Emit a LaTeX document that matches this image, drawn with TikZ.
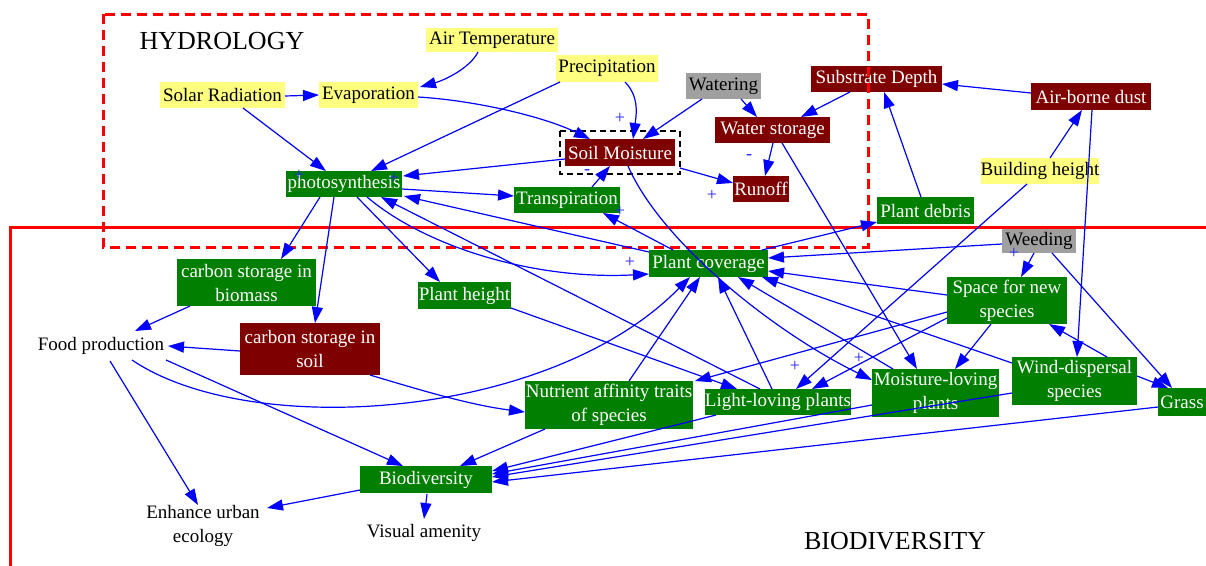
\documentclass[tikz,border=0pt]{standalone}
\usepackage{fontspec}
\setmainfont{Liberation Serif}
\usetikzlibrary{arrows.meta,calc}
\definecolor{yel}{HTML}{FFFF80}
\definecolor{grn}{HTML}{007F00}
\definecolor{drk}{HTML}{7F0000}
\definecolor{gry}{HTML}{A0A0A0}
\definecolor{eblue}{HTML}{0000FF}
\definecolor{sblue}{HTML}{2222FF}
\newcommand\nodefont{\fontsize{19}{24}\selectfont}
\newcommand\grpfont{\fontsize{26}{30}\selectfont}
\newcommand\signfont{\fontsize{18}{18}\selectfont}
\tikzset{
 edge/.style={draw=eblue, line width=1.2pt, -{Triangle[length=16pt,width=11pt]}},
 base/.style={inner sep=0pt, font=\nodefont, align=center},
 ynode/.style={base, fill=yel, text=black},
 gnode/.style={base, fill=grn, text=white},
 rnode/.style={base, fill=drk, text=white},
 grnode/.style={base, fill=gry, text=black},
 plain/.style={base, text=black},
 sign/.style={text=sblue, font=\signfont, inner sep=0pt},
 grplabel/.style={font=\grpfont, text=black, inner sep=0pt},
}
\begin{document}
\begin{tikzpicture}[x=1pt,y=-1pt]
\useasboundingbox (0,0) rectangle (1206,565);
\fill[white] (0,0) rectangle (1206,565);

% nodes
\node[ynode, minimum width=132pt, minimum height=24pt] (airtemp) at (492,40) {Air Temperature};
\node[ynode, minimum width=125pt, minimum height=26pt] (solar) at (222.5,95) {Solar Radiation};
\node[ynode, minimum width=99pt, minimum height=26pt] (evap) at (368.5,95) {Evaporation};
\node[ynode, minimum width=102pt, minimum height=27pt] (precip) at (607,68.5) {Precipitation};
\node[ynode, minimum width=116pt, minimum height=26pt] (building) at (1040,171) {Building height};
\node[grnode, minimum width=75pt, minimum height=26pt] (watering) at (723.5,86) {Watering};
\node[grnode, minimum width=74pt, minimum height=25pt] (weeding) at (1039,240.5) {Weeding};
\node[rnode, minimum width=131pt, minimum height=26pt] (substrate) at (876.5,79) {Substrate Depth};
\node[rnode, minimum width=120pt, minimum height=27pt] (dust) at (1091,96.5) {Air-borne dust};
\node[rnode, minimum width=115pt, minimum height=26pt] (waterstor) at (772.5,130) {Water storage};
\node[rnode, minimum width=110pt, minimum height=27pt] (soilm) at (620,152.5) {Soil Moisture};
\node[rnode, minimum width=56pt, minimum height=26pt] (runoff) at (761,189) {Runoff};
\node[rnode, minimum width=140pt, minimum height=52pt] (csoil) at (310,349) {carbon storage in\\soil};
\node[gnode, minimum width=116pt, minimum height=26pt] (photo) at (344,184) {photosynthesis};
\node[gnode, minimum width=106pt, minimum height=26pt] (transp) at (567,200) {Transpiration};
\node[gnode, minimum width=97pt, minimum height=27pt] (debris) at (925.5,210.5) {Plant debris};
\node[gnode, minimum width=139pt, minimum height=47pt] (cbio) at (246.5,282.5) {carbon storage in\\biomass};
\node[gnode, minimum width=93pt, minimum height=27pt] (pheight) at (464.5,295.5) {Plant height};
\node[gnode, minimum width=119pt, minimum height=27pt] (pcov) at (708.5,263.5) {Plant coverage};
\node[gnode, minimum width=120pt, minimum height=47pt] (space) at (1007,300.5) {Space for new\\species};
\node[gnode, minimum width=168pt, minimum height=48pt] (nutrient) at (609,405) {Nutrient affinity traits\\of species};
\node[gnode, minimum width=146pt, minimum height=26pt] (light) at (778,402) {Light-loving plants};
\node[gnode, minimum width=127pt, minimum height=48pt] (moist) at (935.5,393) {Moisture-loving\\plants};
\node[gnode, minimum width=125pt, minimum height=48pt] (wind) at (1074.5,381) {Wind-dispersal\\species};
\node[gnode, minimum width=48pt, minimum height=28pt] (grass) at (1182,402) {Grass};
\node[gnode, minimum width=132pt, minimum height=27pt] (biodiv) at (426,479.5) {Biodiversity};
\node[plain] (food) at (101,346) {Food production};
\node[plain] (enhance) at (203,526) {Enhance urban\\ecology};
\node[plain] (visual) at (424,533) {Visual amenity};

% groups
\draw[red, line width=3pt, dash pattern=on 10pt off 6pt] (103,14) rectangle (868,247);
\draw[red, line width=3pt] (10,590) -- (10,227) -- (1220,227);
\node[grplabel] (hydro) at (222,41) {HYDROLOGY};
\node[grplabel] (biogrp) at (895,541) {BIODIVERSITY};
\draw[black, line width=1.6pt, dash pattern=on 6pt off 4pt] (560,131) rectangle (680,174);

% edges
\draw[edge] ($(airtemp)+(-14,12)$) .. controls (470,68) and (445,80) .. ($(evap)+(51.5,-8)$);
\draw[edge] ($(solar)+(62.5,1)$) -- ($(evap)+(-49.5,0)$);
\draw[edge] ($(solar)+(20.5,13)$) -- ($(photo)+(-18,-13)$);
\draw[edge] ($(precip)+(-47,13.5)$) -- ($(photo)+(27,-13)$);
\draw[edge] ($(precip)+(18,13.5)$) .. controls (640,97) and (636,117) .. ($(soilm)+(13,-13.5)$);
\draw[edge] ($(evap)+(49.5,2)$) .. controls (470,100) and (540,115) .. ($(soilm)+(-30,-13.5)$);
\draw[edge] ($(watering)+(-21.5,13)$) -- ($(soilm)+(23,-13.5)$);
\draw[edge] ($(watering)+(17.5,13)$) -- ($(waterstor)+(-15.5,-13)$);
\draw[edge] ($(substrate)+(-26.5,13)$) -- ($(waterstor)+(28.5,-13)$);
\draw[edge] ($(waterstor)+(0.5,13)$) -- ($(runoff)+(4,-13)$);
\draw[edge] ($(soilm)+(60,15.5)$) -- ($(runoff)+(-28,-6)$);
\draw[edge] ($(soilm)+(-55,6.5)$) -- ($(photo)+(59,-8)$);
\draw[edge] ($(photo)+(58,5)$) -- ($(transp)+(-53,-4)$);
\draw[edge] ($(transp)+(25,-13)$) -- ($(soilm)+(-10,13.5)$);
\draw[edge] ($(pcov)+(-35.5,-13.5)$) -- ($(transp)+(36,13)$);
\draw[edge] ($(soilm)+(8,13.5)$) .. controls (660,240) and (770,330) .. ($(moist)+(-63.5,-13)$);
\draw[edge] ($(waterstor)+(9.5,13)$) -- ($(moist)+(-18.5,-24)$);
\draw[edge] ($(debris)+(-4.5,-13.5)$) -- ($(substrate)+(7.5,13)$);
\draw[edge] ($(dust)+(-60,-3.5)$) -- ($(substrate)+(65.5,5)$);
\draw[edge] ($(building)+(10,-13)$) -- ($(dust)+(-9,13.5)$);
\draw[edge] ($(dust)+(1,13.5)$) -- ($(wind)+(2.5,-24)$);
\draw[edge] ($(building)+(-13,13)$) -- ($(light)+(18,-13)$);
\draw[edge] ($(pcov)+(53.5,-13.5)$) -- ($(debris)+(-48.5,11.5)$);
\draw[edge] ($(weeding)+(-37,3.5)$) -- ($(pcov)+(59.5,-5.5)$);
\draw[edge] ($(space)+(-60,-5.5)$) -- ($(pcov)+(59.5,7.5)$);
\draw[edge] ($(weeding)+(-5,12.5)$) -- ($(space)+(14,-23.5)$);
\draw[edge] ($(weeding)+(13,12.5)$) -- ($(grass)+(-10,-14)$);
\draw[edge] ($(wind)+(32.5,-24)$) -- ($(space)+(42,23.5)$);
\draw[edge] ($(wind)+(62.5,-5)$) -- ($(grass)+(-14,-14)$);
\draw[edge] ($(space)+(-16,23.5)$) -- ($(moist)+(19.5,-24)$);
\draw[edge] ($(space)+(-60,17.5)$) -- ($(light)+(34,-13)$);
\draw[edge] ($(space)+(-60,11.5)$) -- ($(nutrient)+(86,-24)$);
\draw[edge] ($(moist)+(-42.5,-24)$) -- ($(pcov)+(29.5,13.5)$);
\draw[edge] ($(wind)+(-62.5,-18)$) -- ($(pcov)+(53.5,13.5)$);
\draw[edge] ($(light)+(-6,-13)$) -- ($(pcov)+(9.5,13.5)$);
\draw[edge] ($(nutrient)+(20,-24)$) -- ($(pcov)+(-8.5,13.5)$);
\draw[edge] ($(food)+(31,14)$) .. controls (250,440) and (550,420) .. ($(pcov)+(-18.5,13.5)$);
\draw[edge] ($(photo)+(23,13)$) .. controls (430,250) and (540,280) .. ($(pcov)+(-59.5,10.5)$);
\draw[edge] ($(pcov)+(-59.5,-11.5)$) -- ($(photo)+(60,12)$);
\draw[edge] ($(light)+(-18,-13)$) -- ($(photo)+(37,13)$);
\draw[edge] ($(photo)+(-24,13)$) -- ($(cbio)+(34.5,-23.5)$);
\draw[edge] ($(photo)+(-10,13)$) -- ($(csoil)+(5,-26)$);
\draw[edge] ($(photo)+(13,13)$) -- ($(pheight)+(-24.5,-13.5)$);
\draw[edge] ($(pheight)+(46.5,12.5)$) -- ($(light)+(-41,-13)$);
\draw[edge] ($(cbio)+(-56.5,23.5)$) -- ($(food)+(34,-15)$);
\draw[edge] ($(csoil)+(-70,2)$) -- ($(food)+(67,0)$);
\draw[edge] ($(csoil)+(60,26)$) .. controls (420,390) and (470,405) .. ($(nutrient)+(-84,7)$);
\draw[edge] ($(food)+(9,15)$) -- ($(enhance)+(-5,-21)$);
\draw[edge] ($(food)+(65,14)$) -- ($(biodiv)+(-23,-13.5)$);
\draw[edge] ($(nutrient)+(-64,24)$) -- ($(biodiv)+(34,-13.5)$);
\draw[edge] ($(light)+(-62,13)$) -- ($(biodiv)+(66,-8.5)$);
\draw[edge] ($(moist)+(-63.5,12)$) -- ($(biodiv)+(66,-5.5)$);
\draw[edge] ($(wind)+(-62.5,12)$) -- ($(biodiv)+(66,-2.5)$);
\draw[edge] ($(grass)+(-24,5)$) -- ($(biodiv)+(66,2.5)$);
\draw[edge] ($(biodiv)+(-66,10.5)$) -- ($(enhance)+(64,-18)$);
\draw[edge] ($(biodiv)+(1,14.5)$) -- ($(visual)+(0,-14)$);

% polarity signs
\node[sign] at (620,118) {+};
\node[sign] at (299,175) {+};
\node[sign] at (394,178) {+};
\node[sign] at (712,195) {+};
\node[sign] at (620,211) {+};
\node[sign] at (630,262) {+};
\node[sign] at (795,366) {+};
\node[sign] at (859,358) {+};
\node[sign] at (1014,253) {+};
\node[sign] at (749,157) {-};
\node[sign] at (587,172) {-};
\end{tikzpicture}
\end{document}
